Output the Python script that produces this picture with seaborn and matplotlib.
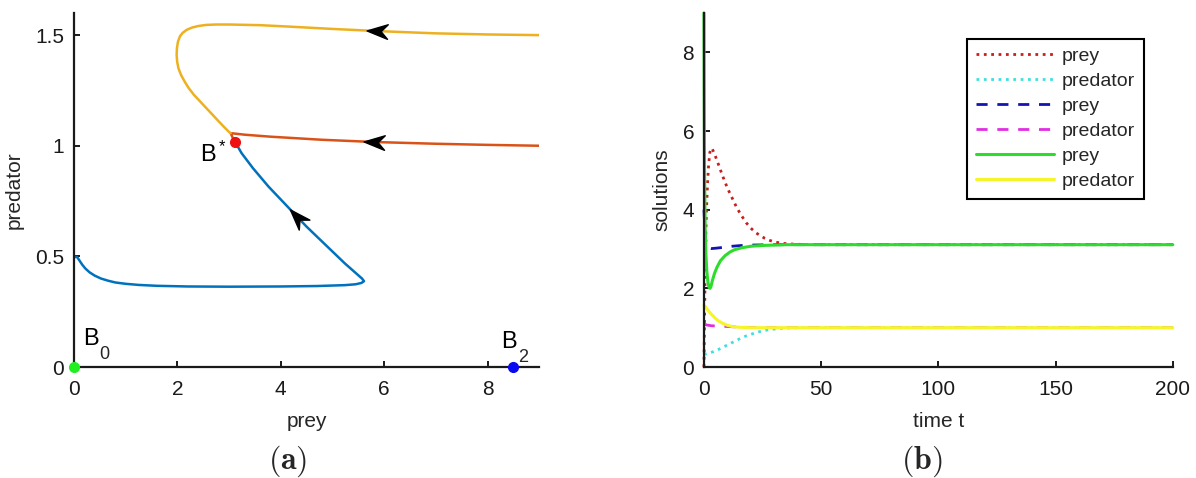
# phase plane + time series for the prey/predator model
# out.png, 1196x478

import matplotlib.pyplot as plt
import seaborn as sns
from matplotlib.markers import MarkerStyle
from matplotlib.path import Path
from matplotlib.transforms import Affine2D

# ---- panel (a): trajectories in the prey/predator plane ----
orbit_top_x = [9.0, 8.0, 7.0, 5.9, 5.0, 4.2, 3.6, 3.0, 2.75, 2.55, 2.4, 2.28, 2.18, 2.1,
               2.05, 2.01, 1.99, 1.985, 1.995, 2.02, 2.07, 2.14, 2.22, 2.32, 2.44, 2.56,
               2.68, 2.8, 2.91, 3.0, 3.03]
orbit_top_y = [1.500, 1.503, 1.508, 1.518, 1.528, 1.538, 1.545, 1.548, 1.548, 1.546, 1.541,
               1.534, 1.524, 1.51, 1.495, 1.47, 1.44, 1.41, 1.38, 1.35, 1.32, 1.29, 1.26,
               1.23, 1.20, 1.17, 1.14, 1.11, 1.083, 1.062, 1.057]

orbit_mid_x = [9.0, 8.0, 7.0, 5.8, 4.8, 3.8, 3.3, 3.03, 3.11]
orbit_mid_y = [1.0, 1.004, 1.009, 1.017, 1.027, 1.041, 1.05, 1.057, 1.015]

orbit_low_x = [0.0, 0.06, 0.1, 0.16, 0.22, 0.3, 0.4, 0.52, 0.66, 0.8, 1.0, 1.25, 1.6, 2.2,
               3.0, 4.0, 4.7, 5.24, 5.45, 5.56, 5.61, 5.57, 5.24, 4.87, 4.5, 4.13, 3.76,
               3.46, 3.24, 3.13]
orbit_low_y = [0.498, 0.497, 0.483, 0.462, 0.445, 0.428, 0.413, 0.4, 0.39, 0.382, 0.376,
               0.371, 0.367, 0.364, 0.363, 0.364, 0.366, 0.37, 0.374, 0.38, 0.388, 0.40,
               0.468, 0.551, 0.634, 0.725, 0.816, 0.899, 0.967, 1.012]

# direction arrows on the orbits
arrow_x = [5.87, 5.8, 4.31]
arrow_y = [1.518, 1.017, 0.68]
arrow_angle = [177, 177, 133]

# equilibria
eq_names = ["B", "B", "B$^*$"]
eq_subs = ["0", "2", ""]
eq_x = [0.0, 8.5, 3.11]
eq_y = [0.0, 0.0, 1.015]
eq_colors = ["#22ee22", "#0a0aee", "#ee1111"]
eq_label_x = [0.17, 8.27, 2.44]
eq_label_y = [0.1, 0.087, 0.928]

# ---- panel (b): solutions vs time ----
t_red = [0, 0.2, 0.5, 0.8, 1.2, 1.6, 2.0, 2.5, 3.0, 3.5, 4.5, 6, 8, 10, 12, 14, 16, 18, 20,
         22, 24, 26, 28, 30, 33, 36, 40, 45, 200]
prey_red = [0.0, 1.0, 2.4, 3.4, 4.2, 4.75, 5.15, 5.45, 5.56, 5.55, 5.42, 5.18, 4.85, 4.55,
            4.3, 4.05, 3.85, 3.67, 3.53, 3.42, 3.34, 3.27, 3.22, 3.18, 3.15, 3.13, 3.12,
            3.11, 3.11]

t_cyan = [0, 2, 4, 6, 8, 10, 12, 14, 16, 18, 20, 22, 25, 28, 32, 36, 42, 200]
pred_cyan = [0.32, 0.35, 0.39, 0.44, 0.5, 0.56, 0.62, 0.68, 0.74, 0.79, 0.83, 0.87, 0.92,
             0.95, 0.98, 0.995, 1.0, 1.0]

t_blue = [0, 0.3, 0.7, 1.2, 2, 3, 5, 8, 12, 16, 20, 25, 30, 200]
prey_blue = [4.0, 3.6, 3.25, 3.07, 3.02, 3.01, 3.02, 3.04, 3.07, 3.09, 3.1, 3.105, 3.11, 3.11]

t_mag = [0, 1, 3, 6, 10, 15, 20, 25, 200]
pred_mag = [1.1, 1.07, 1.05, 1.04, 1.03, 1.015, 1.005, 1.0, 1.0]

t_green = [0, 0.1, 0.25, 0.5, 0.8, 1.2, 1.7, 2.2, 2.6, 3.0, 3.6, 4.5, 5.5, 7, 9, 11, 13, 16,
           20, 25, 30, 35, 200]
prey_green = [9.0, 7.0, 5.0, 3.6, 2.9, 2.45, 2.15, 2.02, 2.0, 2.05, 2.2, 2.38, 2.53, 2.7,
              2.83, 2.92, 2.98, 3.03, 3.07, 3.09, 3.1, 3.11, 3.11]

t_yellow = [0, 1, 2, 3, 4, 5, 6, 8, 10, 12, 15, 20, 200]
pred_yellow = [1.57, 1.5, 1.42, 1.35, 1.29, 1.23, 1.18, 1.11, 1.06, 1.03, 1.01, 1.0, 1.0]


def stealth(angle):
    verts = [(1, 0), (-1, 0.7), (-0.35, 0), (-1, -0.7), (1, 0)]
    codes = [Path.MOVETO, Path.LINETO, Path.LINETO, Path.LINETO, Path.CLOSEPOLY]
    return MarkerStyle(Path(verts, codes), transform=Affine2D().rotate_deg(angle))


def style_axes(ax):
    sns.despine(ax=ax)
    for side in ["left", "bottom"]:
        ax.spines[side].set_linewidth(1.6)
        ax.spines[side].set_color("#1a1a1a")
    ax.tick_params(direction="in", length=4, width=1.4, labelsize=15, colors="#1a1a1a")
    ax.tick_params(axis="x", pad=9)
    ax.tick_params(axis="y", pad=7)


sns.set_style("ticks")
plt.rcParams["font.family"] = ["Liberation Sans", "DejaVu Sans"]
plt.rcParams["mathtext.fontset"] = "custom"
plt.rcParams["mathtext.rm"] = "Liberation Sans"
plt.rcParams["mathtext.it"] = "Liberation Sans:italic"

fig = plt.figure(figsize=(11.96, 4.78), dpi=100)
ax1 = fig.add_axes([0.0619, 0.2322, 0.389, 0.7406])
ax2 = fig.add_axes([0.5886, 0.2322, 0.392, 0.7406])

# panel (a)
lw = 1.8
sns.lineplot(x=orbit_low_x, y=orbit_low_y, sort=False, estimator=None, color="#0072BD", lw=lw, ax=ax1)
sns.lineplot(x=orbit_mid_x, y=orbit_mid_y, sort=False, estimator=None, color="#D95319", lw=lw, ax=ax1)
sns.lineplot(x=orbit_top_x, y=orbit_top_y, sort=False, estimator=None, color="#EDB120", lw=lw, ax=ax1)

for x, y, a in zip(arrow_x, arrow_y, arrow_angle):
    ax1.plot(x, y, marker=stealth(a), markersize=15, color="black", zorder=5)

for name, sub, x, y, c, lx, ly in zip(eq_names, eq_subs, eq_x, eq_y, eq_colors, eq_label_x, eq_label_y):
    ax1.plot(x, y, "o", color=c, markersize=7, clip_on=False, zorder=6)
    ax1.text(lx, ly, name, fontsize=17, color="black", ha="left", va="baseline")
    if sub:
        # matlab drops the subscript well below the baseline
        ax1.annotate(sub, xy=(lx, ly), xytext=(12, -10.5), textcoords="offset points",
                     fontsize=13, ha="left", va="baseline")

ax1.set_xlim(0, 9)
ax1.set_ylim(0, 1.6)
ax1.set_xticks([0, 2, 4, 6, 8])
ax1.set_yticks([0, 0.5, 1, 1.5])
ax1.set_yticklabels(["0", "0.5", "1", "1.5"])
ax1.set_xlabel("prey", fontsize=15, labelpad=10)
ax1.set_ylabel("predator", fontsize=15, labelpad=8)
style_axes(ax1)

# panel (b)
lw2 = 2.0
sns.lineplot(x=t_red, y=prey_red, estimator=None, color="#c81e1e", lw=lw2, linestyle=":", label="prey", ax=ax2)
sns.lineplot(x=t_cyan, y=pred_cyan, estimator=None, color="#3de0e0", lw=lw2, linestyle=":", label="predator", ax=ax2)
sns.lineplot(x=t_blue, y=prey_blue, estimator=None, color="#1414b4", lw=lw2, linestyle=(0, (4, 3.5)), label="prey", ax=ax2)
sns.lineplot(x=t_mag, y=pred_mag, estimator=None, color="#e02ee0", lw=lw2, linestyle=(0, (4, 3.5)), label="predator", ax=ax2)
sns.lineplot(x=t_green, y=prey_green, estimator=None, color="#2edc2e", lw=2.2, label="prey", ax=ax2)
sns.lineplot(x=t_yellow, y=pred_yellow, estimator=None, color="#f5f52a", lw=2.2, label="predator", ax=ax2)
for line in ax2.lines:
    line.set_clip_on(False)

ax2.set_xlim(0, 200)
ax2.set_ylim(0, 9)
ax2.set_xticks([0, 50, 100, 150, 200])
ax2.set_yticks([0, 2, 4, 6, 8])
ax2.set_xlabel("time t", fontsize=15, labelpad=10)
ax2.set_ylabel("solutions", fontsize=15, labelpad=8)
style_axes(ax2)

leg = ax2.legend(loc="upper right", bbox_to_anchor=(0.938, 0.927), borderaxespad=0, fontsize=14,
                 handlelength=4.0, handletextpad=0.4, labelspacing=0.38, borderpad=0.45,
                 fancybox=False, framealpha=1, edgecolor="black")
leg.get_frame().set_linewidth(1.5)

fig.text(0.2405, 0.036, r"$\mathbf{(a)}$", math_fontfamily="cm", fontsize=23, ha="center", va="center")
fig.text(0.771, 0.036, r"$\mathbf{(b)}$", math_fontfamily="cm", fontsize=23, ha="center", va="center")

fig.savefig("out.png", dpi=100)
plt.close(fig)
